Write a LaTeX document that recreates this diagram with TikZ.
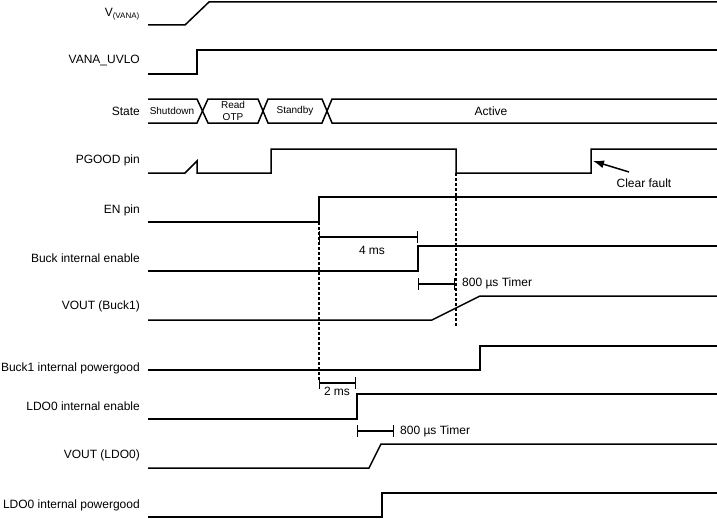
\documentclass[tikz,border=0pt]{standalone}
\usepackage{fontspec}
\setmainfont{Liberation Sans}
\usetikzlibrary{arrows.meta}

\tikzset{
  sig/.style={line width=1.5pt, line join=miter},
  guide/.style={line width=1.2pt, dash pattern=on 3pt off 2pt},
  timebar/.style={line width=1.3pt, {Bar[width=12pt]}-{Bar[width=12pt]}},
  lbl/.style={anchor=east, font=\fontsize{12}{14}\selectfont, inner sep=0pt},
  statelbl/.style={font=\fontsize{10}{12}\selectfont, align=center, inner sep=0pt},
  note/.style={font=\fontsize{12}{14}\selectfont, inner sep=0pt}
}

\begin{document}
\begin{tikzpicture}[x=1pt,y=-1pt]
  \useasboundingbox (0,0) rectangle (717,519);

  % Signal names
  \node[lbl] (vana)   at (140,14)  {V\textsubscript{(VANA)}};
  \node[lbl] (uvlo)   at (140,61)  {VANA\_UVLO};
  \node[lbl] (state)  at (140,111) {State};
  \node[lbl] (pgood)  at (140,160) {PGOOD pin};
  \node[lbl] (en)     at (140,210) {EN pin};
  \node[lbl] (bucken) at (140,258) {Buck internal enable};
  \node[lbl] (vbuck)  at (140,306) {VOUT (Buck1)};
  \node[lbl] (buckpg) at (140,368) {Buck1 internal powergood};
  \node[lbl] (ldoen)  at (140,406) {LDO0 internal enable};
  \node[lbl] (vldo)   at (140,455) {VOUT (LDO0)};
  \node[lbl] (ldopg)  at (140,505) {LDO0 internal powergood};

  % Waveforms
  \draw[sig] (148,25) -- (185,25) -- (209,2) -- (717,2);
  \draw[sig] (148,74) -- (197,74) -- (197,50) -- (717,50);
  \draw[sig] (148,173) -- (185,173) -- (197,161) -- (197,173) -- (271,173) -- (271,149)
    -- (456,149) -- (456,173) -- (591,173) -- (591,149) -- (717,149);
  \draw[sig] (148,222) -- (319,222) -- (319,197) -- (717,197);
  \draw[sig] (148,271) -- (418,271) -- (418,246) -- (717,246);
  \draw[sig] (148,320) -- (432,320) -- (480,296) -- (717,296);
  \draw[sig] (148,370) -- (480,370) -- (480,346) -- (717,346);
  \draw[sig] (148,419) -- (357,419) -- (357,394) -- (717,394);
  \draw[sig] (148,468) -- (369,468) -- (381,444) -- (717,444);
  \draw[sig] (148,517) -- (382,517) -- (382,493) -- (717,493);

  % State bus
  \draw[sig] (148,99) -- (197,99) -- (208,123) -- (258,123) -- (268,99)
    -- (322,99) -- (332,123) -- (717,123);
  \draw[sig] (148,123) -- (197,123) -- (208,99) -- (258,99) -- (268,123)
    -- (322,123) -- (332,99) -- (717,99);
  \node[statelbl] (shdn)  at (172,111) {Shutdown};
  \node[statelbl] (otp)   at (233,111) {Read\\OTP};
  \node[statelbl] (stby)  at (295,111) {Standby};
  \node[note]     (actv)  at (491,111) {Active};

  % Guide lines
  \draw[guide] (319,222) -- (319,380);
  \draw[guide] (456,173) -- (456,326);

  % Timers
  \coordinate (t4a) at (319,237);
  \coordinate (t4b) at (418,237);
  \draw[timebar] (t4a) -- (t4b);
  \node[note] (t4) at (372,250) {4 ms};

  \coordinate (t8a) at (418,284);
  \coordinate (t8b) at (455,284);
  \draw[timebar] (t8a) -- (t8b);
  \node[note, anchor=west] (t8) at (462,283) {800 µs Timer};

  \coordinate (t2a) at (319,383);
  \coordinate (t2b) at (356,383);
  \draw[timebar] (t2a) -- (t2b);
  \node[note] (t2) at (337,391) {2 ms};

  \coordinate (t8c) at (357,431);
  \coordinate (t8d) at (394,431);
  \draw[timebar] (t8c) -- (t8d);
  \node[note, anchor=west] (t8l) at (400,431) {800 µs Timer};

  % Clear fault
  \node[note] (fault) at (644,183) {Clear fault};
  \coordinate (cftail) at (629,172);
  \coordinate (cftip) at (593,161);
  \draw[line width=1.5pt, -{Latex[length=11pt,width=8pt]}] (cftail) -- (cftip);
\end{tikzpicture}
\end{document}
